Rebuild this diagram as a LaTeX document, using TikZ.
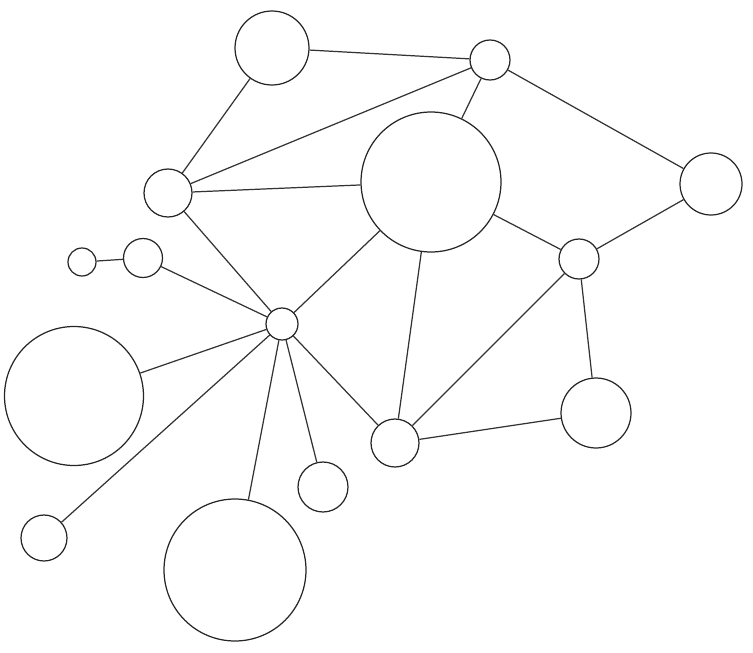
\documentclass[tikz,border=0pt]{standalone}
\usepackage{tikz}
\tikzset{
  ball/.style={draw=black!85, line width=0.7pt, circle, inner sep=0pt, fill=white},
  link/.style={draw=black!80, line width=0.7pt}
}
\begin{document}
\begin{tikzpicture}[x=0.02cm, y=-0.02cm]
        \useasboundingbox (0,0) rectangle (753,652);                   %
        \node [ball, minimum size=1.48cm] (top)    at (272,48)  {};    %top
        \node [ball, minimum size=0.80cm] (topr)   at (490,60)  {};    %
        \node [ball, minimum size=2.80cm] (big)    at (431,182) {};    %centre
        \node [ball, minimum size=1.24cm] (right)  at (711,184) {};    %
        \node [ball, minimum size=0.96cm] (left)   at (168,193) {};    %
        \node [ball, minimum size=0.80cm] (mid)    at (579,259) {};    %
        \node [ball, minimum size=0.56cm] (tiny)   at (82,262)  {};    %
        \node [ball, minimum size=0.78cm] (small)  at (143,258) {};    %
        \node [ball, minimum size=0.64cm] (hub)    at (282,324) {};    %hub
        \node [ball, minimum size=2.78cm] (bigl)   at (74,396)  {};    %
        \node [ball, minimum size=1.40cm] (lowr)   at (596,413) {};    %
        \node [ball, minimum size=0.96cm] (low)    at (395,443) {};    %
        \node [ball, minimum size=1.00cm] (foot)   at (323,487) {};    %
        \node [ball, minimum size=0.92cm] (corner) at (44,538)  {};    %
        \node [ball, minimum size=2.84cm] (bigb)   at (235,570) {};    %bottom
        \draw [link] (top)   -- (topr);                                %
        \draw [link] (top)   -- (left);                                %
        \draw [link] (left)  -- (topr);                                %
        \draw [link] (topr)  -- (big);                                 %
        \draw [link] (topr)  -- (right);                               %
        \draw [link] (right) -- (mid);                                 %
        \draw [link] (left)  -- (big);                                 %
        \draw [link] (left)  -- (hub);                                 %
        \draw [link] (big)   -- (hub);                                 %
        \draw [link] (big)   -- (mid);                                 %
        \draw [link] (big)   -- (low);                                 %
        \draw [link] (tiny)  -- (small);                               %
        \draw [link] (small) -- (hub);                                 %
        \draw [link] (hub)   -- (bigl);                                %
        \draw [link] (hub)   -- (corner);                              %
        \draw [link] (hub)   -- (bigb);                                %
        \draw [link] (hub)   -- (foot);                                %
        \draw [link] (hub)   -- (low);                                 %
        \draw [link] (low)   -- (mid);                                 %
        \draw [link] (low)   -- (lowr);                                %
        \draw [link] (mid)   -- (lowr);                                %
\end{tikzpicture}
\end{document}
